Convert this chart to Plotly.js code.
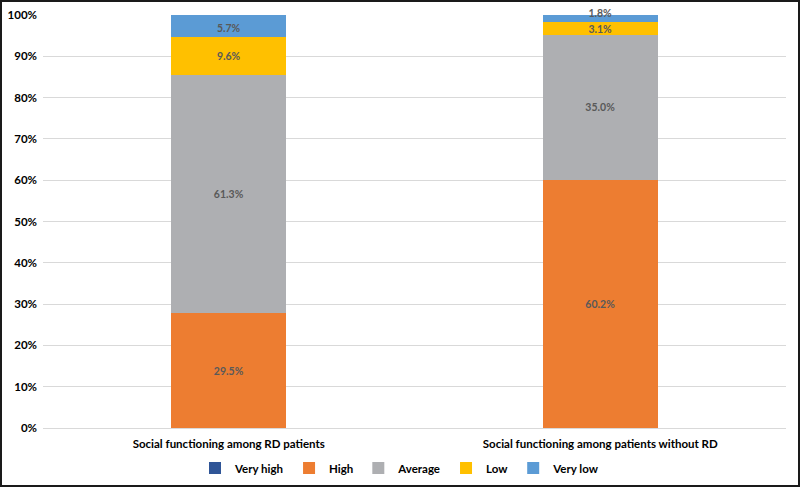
<!DOCTYPE html>
<html>
<head>
<meta charset="utf-8">
<script src="https://cdn.plot.ly/plotly-3.0.1.min.js"></script>
<style>
html,body{margin:0;padding:0;background:#fff;}
#frame{width:800px;height:487px;box-sizing:border-box;border:2px solid #1a1a1a;overflow:hidden;}
#chart{width:796px;height:483px;}
</style>
</head>
<body>
<div id="frame"><div id="chart"></div></div>
<script>
const categories = ["Social functioning among RD patients", "Social functioning among patients without RD"];
const seriesNames = ["Very high", "High", "Average", "Low", "Very low"];
const veryHigh = [0, 0];
const high = [29.5, 60.2];
const average = [61.3, 35.0];
const low = [9.6, 3.1];
const veryLow = [5.7, 1.8];
const tickVals = [0, 10, 20, 30, 40, 50, 60, 70, 80, 90, 100];
const tickText = ["0%", "10%", "20%", "30%", "40%", "50%", "60%", "70%", "80%", "90%", "100%"];

const colors = ["#2F5597", "#ED7D31", "#AEAFB2", "#FFC000", "#5B9BD5"];
const allSeries = [veryHigh, high, average, low, veryLow];
const fontFam = "Lato, 'Open Sans', Arial, sans-serif";
const labelFont = {family: fontFam, size: 10.5, color: '#595959', weight: 'bold'};

const traces = allSeries.map((vals, i) => {
  const isTop = i === allSeries.length - 1;
  return {
    type: 'bar',
    name: seriesNames[i],
    x: categories,
    y: vals,
    marker: {color: colors[i]},
    text: vals.map(v => v > 0 ? v.toFixed(1) + '%' : ''),
    textposition: 'inside',
    insidetextanchor: isTop ? 'start' : 'middle',
    textangle: 0,
    cliponaxis: false,
    textfont: labelFont,
    insidetextfont: labelFont,
    outsidetextfont: labelFont,
    hoverinfo: 'name+text'
  };
});

const layout = {
  barmode: 'stack',
  barnorm: 'percent',
  bargap: 0.69,
  width: 796,
  height: 483,
  margin: {l: 41, r: 12, t: 13, b: 57},
  paper_bgcolor: '#fff',
  plot_bgcolor: '#fff',
  uniformtext: {mode: 'show', minsize: 10.5},
  font: {family: fontFam, color: '#000'},
  xaxis: {
    tickfont: {family: fontFam, size: 11.5, color: '#000', weight: 'bold'},
    showline: true,
    linecolor: '#d9d9d9',
    linewidth: 1,
    ticks: '',
    ticklabelstandoff: 5,
    automargin: false
  },
  yaxis: {
    range: [0, 100],
    tickvals: tickVals,
    ticktext: tickText,
    tickfont: {family: fontFam, size: 11.5, color: '#000', weight: 'bold'},
    gridcolor: '#d9d9d9',
    gridwidth: 1,
    zeroline: false,
    showline: false,
    ticks: '',
    ticklabelstandoff: 5,
    automargin: false
  },
  legend: {
    orientation: 'h',
    x: 0.5,
    xanchor: 'center',
    xref: 'container',
    y: 0.035,
    yanchor: 'middle',
    yref: 'container',
    font: {family: fontFam, size: 11.5, color: '#000', weight: 'bold'},
    itemwidth: 30,
    traceorder: 'normal'
  },
  showlegend: true
};

Plotly.newPlot('chart', traces, layout, {displayModeBar: false, staticPlot: true});
</script>
</body>
</html>
